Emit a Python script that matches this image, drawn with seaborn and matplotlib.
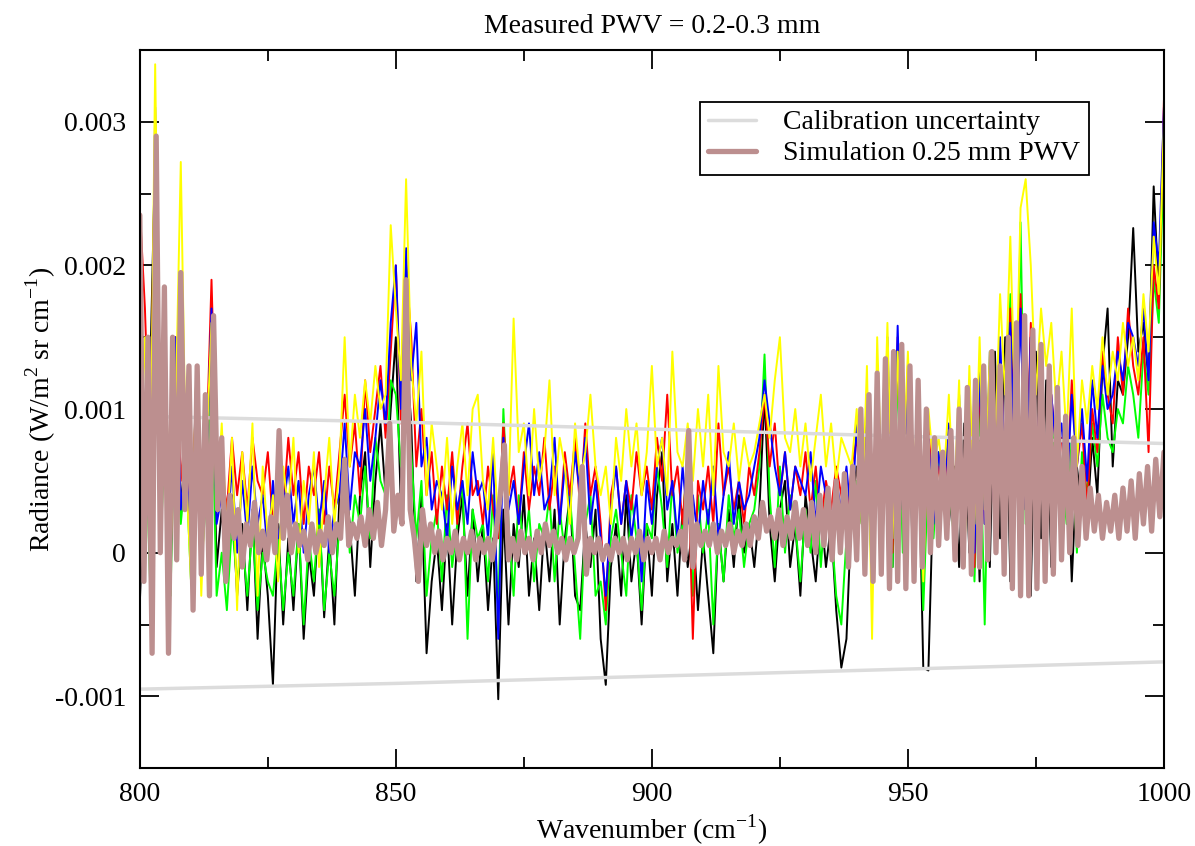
import numpy as np
import pandas as pd
import matplotlib
matplotlib.use("Agg")
import matplotlib.pyplot as plt
import seaborn as sns

# measured spectra, 1 cm-1 steps from 800 to 1000, values in 1e-5 W/m2 sr cm-1
wn_meas = np.arange(800, 1001, 1)

black = [
    -35, 60, 120, 280, 20, 110, -20, 140, 30, 80,
    -10, 120, 0, 60, 150, -10, 30, -20, 40, -30,
    20, -40, 30, -60, 10, -30, -92, 20, -50, 10,
    -40, 20, -60, 0, -30, 30, -45, 10, -50, 40,
    60, 20, -30, 40, 70, -10, 50, 90, 40, 100,
    150, 30, 140, 90, -20, 40, -70, -20, 10, -40,
    20, -50, 10, 40, -30, 30, -20, 20, -40, 10,
    -102, 30, -50, 20, -10, 40, -30, 10, -40, 20,
    -20, 30, -50, 10, 40, -30, -40, 20, -10, 30,
    -60, -92, -10, 20, -30, 40, -20, 10, -50, 20,
    -30, 40, 70, -20, 20, -30, 30, -10, 20, -40,
    10, -30, -70, 20, -20, 30, -10, 40, 0, 20,
    -10, 30, 110, 20, -20, 30, 50, -10, 20, -30,
    40, 10, -20, 30, -10, 20, -40, -80, -60, 30,
    60, 20, 90, -20, 110, 0, 130, -10, 140, 20,
    120, -10, 90, -80, -82, 50, 10, 70, 20, 60,
    -10, 90, 0, 110, -20, 120, -10, 140, 10, 150,
    -20, 160, 0, 150, -30, 140, 10, 120, -10, 100,
    0, 80, -20, 60, 30, 20, 80, 40, 130, 170,
    60, 120, 110, 150, 226, 140, 160, 120, 255, 180,
    290]

red = [
    240, 170, 60, 290, 40, 120, -10, 150, 50, 90,
    10, 110, 20, 70, 190, 60, 60, 30, 80, 40,
    70, 30, 80, 50, 40, 70, 20, 60, 30, 80,
    40, 70, 20, 60, 40, 70, 20, 60, 30, 70,
    110, 60, 90, 40, 120, 70, 100, 130, 80, 140,
    200, 90, 200, 150, 60, 100, 40, 70, 20, 60,
    30, 70, 20, 60, 90, 40, 50, 20, 60, 30,
    10, 90, 40, 60, 20, 70, 30, 60, 40, 80,
    30, 60, 20, 70, 40, 80, 30, 90, 40, 60,
    20, -40, 40, 60, 20, 50, 30, 70, 40, 60,
    30, 80, 50, 110, 40, 60, 20, 70, -60, 50,
    30, 60, 20, 90, 40, 60, 30, 50, 20, 60,
    40, 70, 110, 60, 90, 40, 70, 30, 60, 40,
    70, 30, 60, 20, 50, 30, 60, 40, 20, 60,
    80, 30, 100, 10, 120, 20, 140, 0, 150, 30,
    130, 20, 100, -10, 90, 30, 60, 40, 80, 20,
    100, 10, 110, -10, 120, 20, 130, 10, 140, 60,
    170, 40, 180, 30, 160, 60, 120, 40, 110, 70,
    80, 40, 120, 60, 90, 30, 100, 70, 140, 110,
    90, 150, 110, 170, 130, 110, 150, 70, 200, 170,
    315]

green = [
    40, 100, -20, 250, 0, 90, -30, 130, 20, 60,
    -20, 90, -10, 40, 120, -30, 0, -40, 20, -20,
    10, -30, 20, -40, 0, -20, -30, 10, -40, 0,
    -30, 20, -50, 10, -20, 30, -40, 0, -30, 20,
    50, 0, 40, 20, 60, 10, 80, 50, 40, 120,
    110, 60, 100, 70, 10, 50, -30, 10, 30, -20,
    40, -10, 20, 50, -60, 30, 10, 20, -20, 40,
    -40, 100, 20, -30, 40, 0, 30, -20, 20, 10,
    40, -20, 30, 0, 40, -10, -60, 20, 40, -30,
    -20, -50, 10, 30, 0, -30, 40, 10, -40, 20,
    10, 60, 30, -10, 50, 0, 20, 70, -30, 40,
    0, 30, -50, 20, -20, 40, 10, 30, -10, 20,
    30, 60, 138, 40, -10, 60, 0, 40, 20, -20,
    30, 0, 50, -10, 40, 20, -30, -50, 10, 40,
    50, 20, 80, -20, 100, 10, 120, -10, 130, 0,
    100, 20, 80, -40, 60, 10, 70, 30, 50, 10,
    80, 0, 90, -20, 100, -50, 120, 20, 130, 50,
    180, 40, 230, 20, 150, 40, 110, 30, 90, 60,
    60, 20, 80, 0, 70, 40, 90, 60, 110, 80,
    70, 100, 90, 130, 110, 80, 140, 110, 190, 160,
    280]

blue = [
    50, 70, 10, 310, 30, 100, -10, 150, 30, 70,
    0, 100, 10, 60, 170, 20, 40, 10, 60, 0,
    50, 10, 60, 20, 40, 0, 50, 10, 30, 60,
    20, 50, 0, 40, 60, 20, 50, 0, 30, 40,
    90, 30, 70, 60, 100, 50, 80, 120, 90, 160,
    200, 100, 212, 120, 160, 60, 80, 30, 50, 40,
    10, 60, 30, 50, 20, 70, 40, 50, 10, 70,
    -60, 80, 30, 50, 20, 60, 90, 40, 70, 30,
    40, 80, 20, 60, 30, 70, 40, 80, 20, 50,
    10, -30, 30, 60, 20, 50, 10, 40, -20, 50,
    20, 60, 80, 30, 50, 10, 60, 20, 40, 10,
    50, 20, 60, 10, 40, 70, 20, 50, 30, 40,
    60, 80, 120, 90, 60, 40, 70, 30, 60, 50,
    40, 70, 20, 60, 40, 10, 50, 30, 60, 20,
    90, 30, 110, 0, 130, 20, 150, 10, 158, 30,
    120, 10, 100, 0, 80, 20, 70, 40, 90, 20,
    110, 10, 120, 0, 130, 20, 140, 10, 150, 50,
    160, 40, 170, 30, 150, 50, 130, 40, 110, 70,
    90, 40, 110, 60, 100, 50, 120, 80, 130, 100,
    110, 140, 120, 160, 150, 130, 170, 120, 230, 200,
    310]

yellow = [
    60, 150, 20, 340, 50, 130, 0, 100, 272, 60,
    -20, 120, -30, 70, 160, 30, 90, 10, 80, -40,
    70, 20, 90, -30, 60, 10, 40, -20, 60, 30,
    80, 0, 50, 20, 70, -10, 40, 80, 20, 60,
    150, 60, 110, 80, 120, 90, 130, 100, 110, 228,
    170, 120, 260, 130, 90, 140, 40, 90, 60, 30,
    80, 20, 60, 90, 40, 100, 110, 50, 30, 80,
    20, 60, 40, 163, 70, 90, 40, 100, 50, 70,
    120, 40, 80, 60, 20, 90, 50, 70, 110, 60,
    40, 60, 20, 80, 50, 100, 60, 90, 40, 70,
    130, 60, 80, 40, 140, 70, 60, 90, 50, 100,
    60, 110, 40, 130, 70, 60, 90, 50, 80, 60,
    70, 90, 110, 80, 120, 150, 80, 70, 100, 60,
    90, 50, 80, 110, 60, 90, 50, 80, 70, 60,
    100, 20, 130, -60, 150, 30, 160, 10, 140, 50,
    140, 30, 120, -20, 100, 60, 80, 50, 110, 30,
    120, -10, 130, 20, 150, 30, 140, 70, 180, 110,
    220, 90, 240, 260, 200, 110, 170, 130, 160, 100,
    140, 80, 170, 60, 120, 90, 130, 100, 150, 110,
    140, 120, 160, 130, 150, 120, 180, 140, 220, 180,
    300]

# simulation 0.25 mm PWV, 0.8 cm-1 steps
wn_sim = np.linspace(800, 1000, 251)
sim = [
    235, -20, 150, -70, 290, 0, 185, -70, 150, -5,
    195, 30, 130, -40, 130, -15, 110, -30, 165, 30,
    80, -20, 40, 10, 30, -10, 20, 5, 35, 0,
    15, -5, 25, 0, 85, 10, 40, 0, 20, 5,
    15, -5, 20, 0, 15, 5, 25, 0, 20, 10,
    65, 5, 20, 10, 25, 5, 30, 10, 35, 5,
    30, 90, 15, 40, 20, 190, 30, 10, -20, 30,
    5, 20, 0, 15, -5, 10, 0, 15, -5, 10,
    0, 15, -5, 10, 0, 10, -5, 15, 40, 75,
    -5, 10, -5, 15, 0, 10, -5, 15, 0, 20,
    5, 15, 0, 10, -5, 10, 0, 10, 60, -15,
    10, 0, 10, -5, 5, -5, 10, 0, 10, -5,
    10, 0, 15, -5, 10, 0, 10, -5, 15, 0,
    10, 5, 15, -5, 85, -10, 20, 5, 15, 5,
    20, 0, 15, 5, 20, 0, 15, 5, 20, 5,
    25, 10, 35, 15, 25, 10, 30, 5, 25, 10,
    35, 10, 30, 5, 35, 0, 40, 5, 45, -5,
    50, 0, 55, -10, 60, -5, 100, -15, 110, -20,
    125, -15, 135, -25, 140, -20, 145, -25, 130, -20,
    120, -10, 100, 0, 80, 5, 70, 10, 85, -5,
    100, -10, 115, -15, 120, -10, 130, -5, 140, 0,
    130, -15, 150, -25, 160, -30, 165, -30, 155, -25,
    145, -20, 130, -15, 115, -5, 95, 0, 80, 5,
    60, 10, 45, 15, 40, 10, 35, 15, 40, 10,
    45, 15, 50, 10, 55, 20, 60, 15, 65, 25,
    70]

# calibration uncertainty (+/-)
wn_cal = [800, 850, 900, 950, 1000]
cal = [95, 91, 86, 81, 76]

yticks = [-0.001, 0, 0.001, 0.002, 0.003]
ytick_labels = ["-0.001", "0", "0.001", "0.002", "0.003"]
xticks = [800, 850, 900, 950, 1000]

scale = 1e-5

sns.set_style("ticks")
plt.rcParams["font.family"] = ["Liberation Serif", "DejaVu Serif"]
plt.rcParams["mathtext.fontset"] = "custom"
plt.rcParams["mathtext.rm"] = "Liberation Serif"
for k in ["text.color", "axes.labelcolor", "xtick.color", "ytick.color", "axes.edgecolor"]:
    plt.rcParams[k] = "black"

fig, ax = plt.subplots(figsize=(11.95, 8.46), dpi=100)
fig.subplots_adjust(left=0.117, right=0.974, bottom=0.092, top=0.941)

for vals, col in [(black, "black"), (green, "#00ff00"), (red, "#ff0000"),
                  (blue, "#0000ff"), (yellow, "#ffff00")]:
    sns.lineplot(x=wn_meas, y=np.array(vals) * scale, color=col, lw=1.4, ax=ax)

cal_arr = np.array(cal) * scale
sns.lineplot(x=wn_cal, y=cal_arr, color="#dcdcdc", lw=2.5, ax=ax,
             label="Calibration uncertainty")
sns.lineplot(x=wn_cal, y=-cal_arr, color="#dcdcdc", lw=2.5, ax=ax)
sns.lineplot(x=wn_sim, y=np.array(sim) * scale, color="#bc8f8f", lw=3.8, ax=ax,
             label="Simulation 0.25 mm PWV")

ax.set_xlim(800, 1000)
ax.set_ylim(-0.0015, 0.0035)
ax.set_xticks(xticks)
ax.set_xticks(np.arange(825, 1000, 50), minor=True)
ax.set_yticks(yticks)
ax.set_yticklabels(ytick_labels)
ax.set_yticks(np.arange(-0.0015, 0.0035, 0.0005), minor=True)
ax.tick_params(which="both", direction="in", top=True, right=True,
               labelsize=20, width=1.3)
ax.tick_params(which="major", length=14, pad=10)
ax.tick_params(which="minor", length=8)
for s in ax.spines.values():
    s.set_linewidth(1.5)

ax.set_xlabel("Wavenumber (cm$^{-1}$)", fontsize=20, labelpad=4)
ax.set_ylabel("Radiance (W/m$^{2}$ sr cm$^{-1}$)", fontsize=20)
ax.yaxis.set_label_coords(-0.08, 0.5)
ax.set_title("Measured PWV = 0.2-0.3 mm", fontsize=20, pad=12)

leg = ax.legend(loc="upper left", bbox_to_anchor=(0.547, 0.928), fontsize=20,
                frameon=True, fancybox=False, edgecolor="black", framealpha=1,
                borderaxespad=0, handlelength=1.7, handletextpad=1.0,
                borderpad=0.3, labelspacing=0.2)
leg.get_frame().set_linewidth(1.3)

fig.savefig("out.png", dpi=100)
